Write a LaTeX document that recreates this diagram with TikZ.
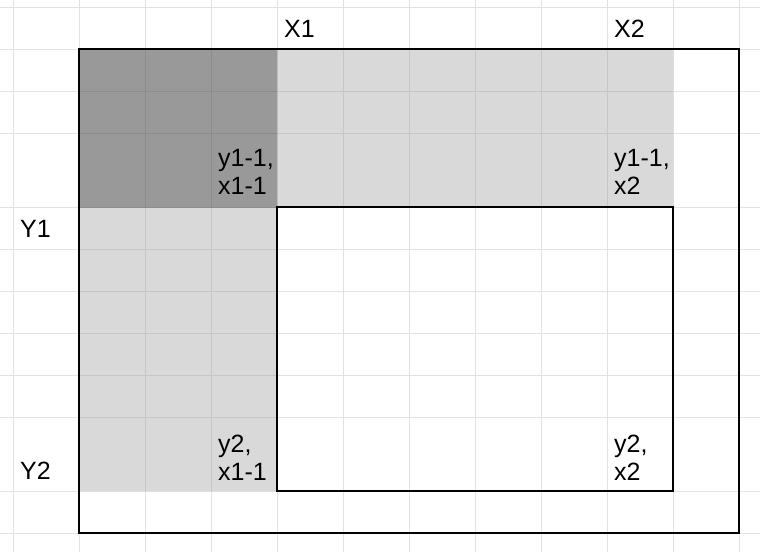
\documentclass[tikz,border=0pt]{standalone}
\usepackage{fontspec}
\setmainfont{Liberation Sans}
\definecolor{gridc}{HTML}{E2E2E2}
\definecolor{lightfill}{HTML}{D9D9D9}
\definecolor{lightgrid}{HTML}{C6C6C6}
\definecolor{darkfill}{HTML}{999999}
\definecolor{darkgrid}{HTML}{8C8C8C}
\newcommand\mygridlines[1]{%
  \foreach \gx in {13,79,...,739} {\draw[#1, line width=1pt] (\gx,0) -- (\gx,552);}%
  \foreach \gy in {7,49,91,133,207,249,291,333,375,417,491,533} {\draw[#1, line width=1pt] (0,\gy) -- (760,\gy);}%
}
\begin{document}
\begin{tikzpicture}[x=1pt,y=-1pt,
  lbl/.style={anchor=base west, inner sep=0pt, align=left, font=\fontsize{25}{28}\selectfont},
  border/.style={draw=black, line width=2pt}]
\useasboundingbox (0,0) rectangle (760,552);
\fill[white] (0,0) rectangle (760,552);
\mygridlines{gridc}
% grey regions
\fill[lightfill] (79,49) rectangle (673,207);
\fill[lightfill] (79,207) rectangle (277,491);
\fill[darkfill] (79,49) rectangle (277,207);
\begin{scope}
  \clip (79,49) rectangle (673,207) (79,207) rectangle (277,491);
  \mygridlines{lightgrid}
\end{scope}
\begin{scope}
  \clip (79,49) rectangle (277,207);
  \mygridlines{darkgrid}
\end{scope}
% borders
\draw[border] (79,49) rectangle (739,533);
\draw[border] (277,207) rectangle (673,491);
% labels
\node[lbl] (X1) at (284,37) {X1};
\node[lbl] (X2) at (614,37) {X2};
\node[lbl] (Y1) at (20,237) {Y1};
\node[lbl] (Y2) at (20,479) {Y2};
\node[lbl] (c1) at (218,194) {y1-1,\\x1-1};
\node[lbl] (c2) at (614,194) {y1-1,\\x2};
\node[lbl] (c3) at (218,480) {y2,\\x1-1};
\node[lbl] (c4) at (614,480) {y2,\\x2};
\end{tikzpicture}
\end{document}
